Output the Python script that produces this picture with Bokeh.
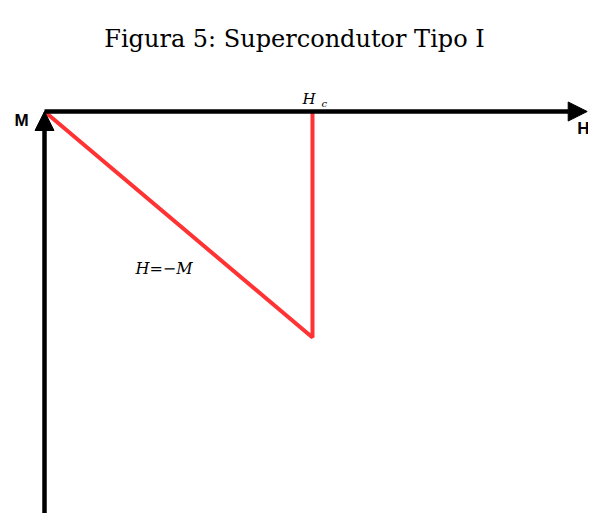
from bokeh.plotting import figure
from bokeh.models import Arrow, NormalHead, Label, Range1d
from bokeh.embed import file_html
from bokeh.resources import INLINE

# data
H_vals = [0.0, 1.0, 1.0]
M_vals = [0.0, -1.0, 0.0]
HC = 1.0
H_AXIS_END = 2.025
M_AXIS_START = -1.85
TITLE = "Figura 5: Supercondutor Tipo I"

W, Hh = 588, 513
px_x = 268.0   # pixels per unit of H
px_y = 226.0   # pixels per unit of M
ox, oy = 44, 111  # origin in page pixels
x0 = -ox / px_x
x1 = (W - ox) / px_x
y1 = oy / px_y
y0 = -(Hh - oy) / px_y

p = figure(width=W, height=Hh, output_backend="svg", toolbar_location=None,
           x_range=Range1d(x0, x1), y_range=Range1d(y0, y1),
           min_border_left=0, min_border_right=0, min_border_bottom=0, min_border_top=0)
p.axis.visible = False
p.grid.visible = False
p.outline_line_color = None

p.add_layout(Label(x=W / 2, y=Hh - 38, x_units="screen", y_units="screen", text=TITLE,
                   text_align="center", text_baseline="alphabetic",
                   text_font="DejaVu Serif", text_font_size="24px", text_color="black"))

p.line(H_vals, M_vals, line_color="#ff3333", line_width=4)

p.add_layout(Arrow(end=NormalHead(size=19, fill_color="black", line_color="black"),
                   x_start=0, y_start=0, x_end=H_AXIS_END, y_end=0,
                   line_width=4.5, line_color="black"))
p.add_layout(Arrow(end=NormalHead(size=19, fill_color="black", line_color="black"),
                   x_start=0, y_start=M_AXIS_START, x_end=0, y_end=0,
                   line_width=4.5, line_color="black"))

p.add_layout(Label(x=0, y=0, text="M", x_offset=-23, y_offset=-9,
                   text_align="center", text_baseline="middle", text_color="black",
                   text_font="Liberation Sans", text_font_style="bold", text_font_size="17px"))
p.add_layout(Label(x=H_AXIS_END, y=0, text="H", x_offset=-10, y_offset=-17,
                   text_align="left", text_baseline="middle", text_color="black",
                   text_font="Liberation Sans", text_font_style="bold", text_font_size="17px"))
p.add_layout(Label(x=HC, y=0, text="H", x_offset=-10, y_offset=13,
                   text_align="left", text_baseline="alphabetic", text_color="black",
                   text_font="DejaVu Serif", text_font_style="italic", text_font_size="15px"))
p.add_layout(Label(x=HC, y=0, text="c", x_offset=9, y_offset=8,
                   text_align="left", text_baseline="alphabetic", text_color="black",
                   text_font="DejaVu Serif", text_font_style="italic", text_font_size="10px"))
p.add_layout(Label(x=0.5, y=-0.5, text="H=\u2212M", x_offset=-43, y_offset=-44,
                   text_align="left", text_baseline="alphabetic", text_color="black",
                   text_font="DejaVu Serif", text_font_style="italic", text_font_size="16px"))

open("out.html", "w").write(file_html(p, INLINE))
